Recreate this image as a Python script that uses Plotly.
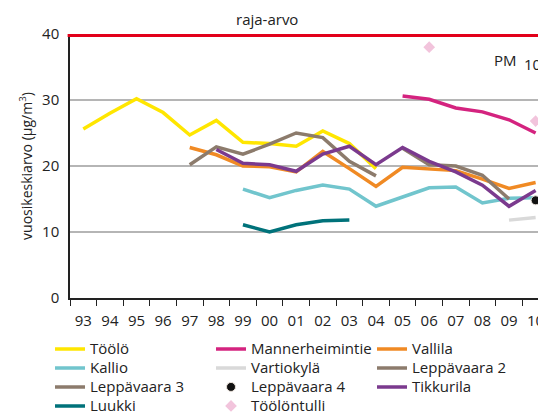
import plotly.graph_objects as go

years = ["93","94","95","96","97","98","99","00","01","02","03","04","05","06","07","08","09","10"]

toolo = [25.6, 28.0, 30.2, 28.1, 24.7, 26.9, 23.6, 23.4, 23.0, 25.3, 23.4, 19.6, None, None, None, None, None, None]
mannerheimintie = [None]*12 + [30.6, 30.1, 28.8, 28.2, 27.0, 25.0]
vallila = [None]*4 + [22.8, 21.7, 20.0, 19.9, 19.1, 22.2, 19.6, 16.9, 19.8, 19.6, 19.3, 18.0, 16.6, 17.5]
kallio = [None]*6 + [16.5, 15.2, 16.3, 17.1, 16.5, 13.9, 15.3, 16.7, 16.8, 14.4, 15.1, 15.2]
vartiokyla = [None]*16 + [11.8, 12.2]
leppavaara2 = [None]*4 + [20.2, 22.9, 21.8, 23.3, 25.0, 24.3, 20.7, 18.5, None, None, None, None, None, None]
leppavaara3 = [None]*12 + [22.7, 20.2, 20.0, 18.6, 15.0, None]
leppavaara4 = [None]*17 + [14.8]
tikkurila = [None]*5 + [22.5, 20.4, 20.2, 19.2, 21.8, 23.0, 20.2, 22.8, 20.7, 19.1, 17.1, 13.9, 16.3]
luukki = [None]*6 + [11.1, 10.0, 11.1, 11.7, 11.8, None, None, None, None, None, None, None]
toolontulli = [None]*13 + [38.0, None, None, None, 26.8]

limit_value = 40
y_ticks = [0, 10, 20, 30, 40]

FONT = "Open Sans"
LW = 3.5

fig = go.Figure()

def lbl(name):
    return '<span style="font-size:15px">' + name + '</span>'

def add_line(name, vals, color):
    fig.add_trace(go.Scatter(x=years, y=vals, name=lbl(name), mode="lines",
                             line=dict(color=color, width=LW), connectgaps=False))

add_line("Töölö", toolo, "#ffe600")
add_line("Mannerheimintie", mannerheimintie, "#d4237f")
add_line("Vallila", vallila, "#f08a24")
add_line("Kallio", kallio, "#71c5cd")
add_line("Vartiokylä", vartiokyla, "#d9d9d9")
add_line("Leppävaara 2", leppavaara2, "#8c7b6c")
add_line("Leppävaara 3", leppavaara3, "#8c7b6c")
fig.add_trace(go.Scatter(x=years, y=leppavaara4, name=lbl("Leppävaara 4"), mode="markers",
                         marker=dict(color="#111111", size=9, line=dict(color="#e8e0d8", width=1))))
add_line("Tikkurila", tikkurila, "#7b3a8e")
add_line("Luukki", luukki, "#00727a")
fig.add_trace(go.Scatter(x=years, y=toolontulli, name=lbl("Töölöntulli"), mode="markers",
                         marker=dict(color="#f2c4dc", size=9, symbol="diamond")))

fig.add_shape(type="line", xref="paper", yref="y", x0=-0.005, x1=1, y0=limit_value, y1=limit_value,
              line=dict(color="#e2001a", width=6), layer="above")

fig.add_annotation(text="raja-arvo", xref="x", yref="paper", x=6.9, y=1.0, yanchor="middle", yshift=15,
                   showarrow=False, font=dict(size=15, color="#222"))
fig.add_annotation(text="PM", xref="paper", yref="paper", x=0.887, y=0.9015, xanchor="left", yanchor="middle",
                   showarrow=False, font=dict(size=15, color="#222"))
fig.add_annotation(text="10", xref="paper", yref="paper", x=0.95, y=0.888, xanchor="left", yanchor="middle",
                   showarrow=False, font=dict(size=15, color="#222"))

# page body has an 8px margin, so the figure is 8px smaller and margins shifted
fig.update_layout(
    width=538, height=406,
    margin=dict(l=62, r=0, t=26, b=116, autoexpand=False),
    paper_bgcolor="white", plot_bgcolor="white",
    font=dict(family=FONT, size=15, color="#222"),
    showlegend=True,
    legend=dict(orientation="h", x=-0.042, y=-0.138, xanchor="left", yanchor="top",
                entrywidth=116, font=dict(size=12), traceorder="normal",
                itemwidth=30, tracegroupgap=0),
    xaxis=dict(type="category", categoryorder="array", categoryarray=years,
               range=[-0.5, 17.39], tickson="boundaries", ticks="outside", ticklen=6,
               tickcolor="#222", showline=True, linecolor="#222", linewidth=1.5,
               showgrid=False, ticklabelstandoff=8, tickfont=dict(size=15)),
    yaxis=dict(range=[0, 40], tickvals=y_ticks, showline=True, linecolor="#222", linewidth=1.5,
               showgrid=True, gridcolor="#b5b5b5", gridwidth=1.5, zeroline=False,
               ticks="", ticklabelstandoff=6, tickfont=dict(size=15),
               title=dict(text="vuosikeskiarvo (µg/m<sup>3</sup>)", font=dict(size=14), standoff=6)),
)

fig.write_html("out.html")
